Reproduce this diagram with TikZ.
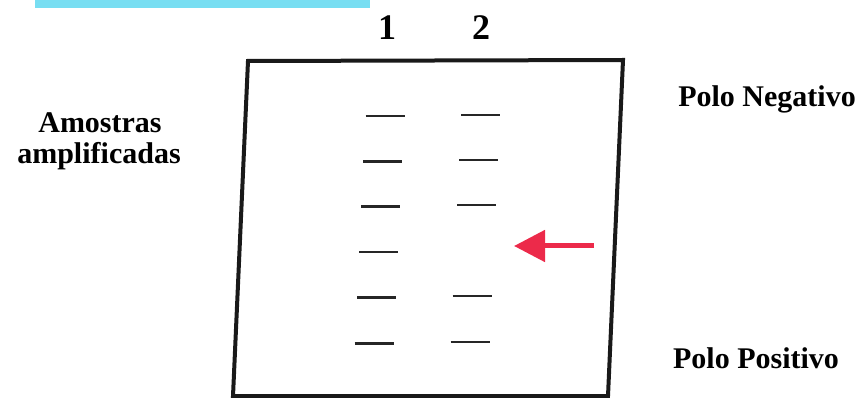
\documentclass[tikz,border=0pt]{standalone}
\usepackage{fontspec}
\setmainfont{Liberation Serif}
\usetikzlibrary{positioning,arrows.meta}

\definecolor{barcyan}{RGB}{120,222,242}
\definecolor{arrowred}{RGB}{236,42,74}

\tikzset{
  gelbox/.style={draw=black!90, line width=4pt, line join=miter},
  band/.style={draw=black!85, line width=2.4pt},
  lbl/.style={font=\fontsize{30}{30}\selectfont\bfseries, anchor=base, inner sep=0pt},
  lanelbl/.style={font=\fontsize{36}{36}\selectfont\bfseries, anchor=base, inner sep=0pt},
  markarrow/.style={draw=arrowred, line width=5pt, -{Triangle[length=31pt,width=31pt]}}
}

\begin{document}
\begin{tikzpicture}[x=1pt, y=-1pt]
    \useasboundingbox (0,0) rectangle (865,398);

    % strip at the top edge
    \fill[barcyan] (35,0) rectangle (370,8);

    % gel
    \draw[gelbox] (248,61) -- (623,60) -- (608,396) -- (233,396) -- cycle;

    \node[lanelbl] (lane1) at (387,40) {1};
    \node[lanelbl] (lane2) at (481,40) {2};

    % lane 1
    \foreach \x/\y in {365.7/116, 363/161.7, 361/206.7, 359/252.3, 357/297.3, 354.7/343.3}
      \draw[band] (\x,\y) -- ++(39,0);
    % lane 2
    \foreach \x/\y in {461.3/115, 459/160, 457/205.3, 452.7/295.7, 450.7/341.7}
      \draw[band] (\x,\y) -- ++(39,0);

    \coordinate (tail) at (594,246);
    \coordinate (tip) at (514,246);
    \draw[markarrow] (tail) -- (tip);

    \node[lbl] (amostras) at (100,133) {Amostras};
    \node[lbl] (amplif) at (99,164) {amplificadas};
    \node[lbl] (neg) at (767,107) {Polo Negativo};
    \node[lbl] (pos) at (756,368) {Polo Positivo};
\end{tikzpicture}
\end{document}
